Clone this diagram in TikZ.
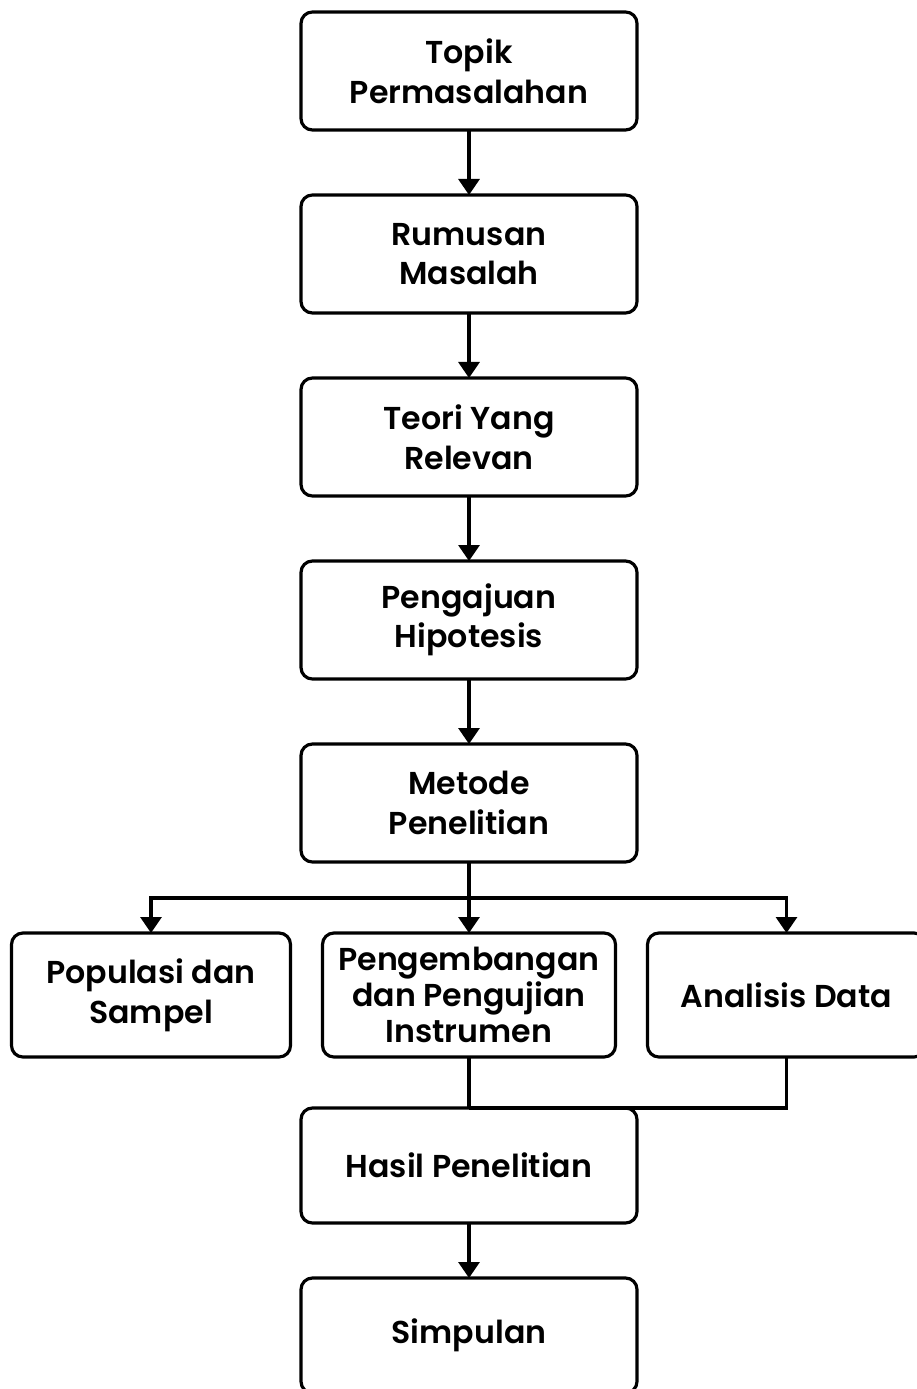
\documentclass[tikz,border=0pt]{standalone}
\usepackage{fontspec}
\setmainfont{Poppins}[BoldFont={Poppins SemiBold}]
\usetikzlibrary{arrows.meta, positioning}

\begin{document}
\begin{tikzpicture}[
  node distance=1.3cm,
  box/.style={draw, line width=1.8pt, rounded corners=6.5pt, fill=white,
              outer sep=0pt,
              minimum width=6.72cm, minimum height=2.36cm,
              font=\fontsize{18}{22.5}\selectfont\bfseries, align=center},
  subbox/.style={box, minimum height=2.48cm},
  arrow/.style={-{Triangle[width=0.42cm, length=0.32cm]}, line width=1.8pt},
  line/.style={line width=1.8pt}
]
\clip (0,0) rectangle (18.34,-27.78);

\node[box] (topik) at (9.38,-1.42) {Topik\\Permasalahan};
\node[box, below=of topik]     (rumusan)   {Rumusan\\Masalah};
\node[box, below=of rumusan]   (teori)     {Teori Yang\\Relevan};
\node[box, below=of teori]     (pengajuan) {Pengajuan\\Hipotesis};
\node[box, below=of pengajuan] (metode)    {Metode\\Penelitian};

\node[subbox, minimum width=5.86cm, below=1.42cm of metode,
      font=\fontsize{18}{20.5}\selectfont\bfseries] (pengembangan)
     {Pengembangan\\dan Pengujian\\Instrumen};
\node[subbox, minimum width=5.58cm, left=0.64cm of pengembangan]  (populasi)
     {Populasi dan\\Sampel};
\node[subbox, minimum width=5.56cm, right=0.64cm of pengembangan] (analisis)
     {Analisis Data};

\node[box, minimum height=2.3cm, below=1.02cm of pengembangan] (hasil)    {Hasil Penelitian};
\node[box, minimum height=2.3cm, below=1.1cm of hasil]         (simpulan) {Simpulan};

\coordinate[below=0.72cm of metode] (split);

\draw[arrow] (topik)     -- (rumusan);
\draw[arrow] (rumusan)   -- (teori);
\draw[arrow] (teori)     -- (pengajuan);
\draw[arrow] (pengajuan) -- (metode);

\draw[line]  (metode.south) -- (split);
\draw[arrow] (split) -| (populasi);
\draw[arrow] (split) -- (pengembangan);
\draw[arrow] (split) -| (analisis);

\draw[line] (pengembangan.south) -- (pengembangan.south |- hasil.north);
\draw[line] (analisis.south) |- (hasil.north);

\draw[arrow] (hasil) -- (simpulan);
\end{tikzpicture}
\end{document}
